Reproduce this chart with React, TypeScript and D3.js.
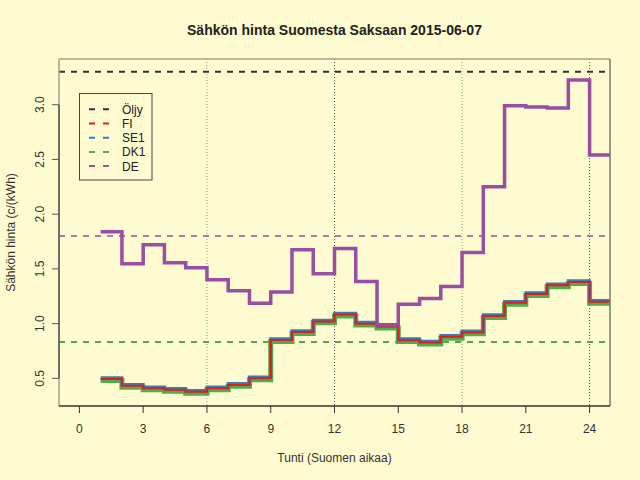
import React from "react";
import * as d3 from "d3";

const hours = [1,2,3,4,5,6,7,8,9,10,11,12,13,14,15,16,17,18,19,20,21,22,23,24];
const FI = [0.494,0.433,0.41,0.396,0.378,0.41,0.44,0.5,0.85,0.924,1.02,1.083,1.0,0.974,0.849,0.828,0.88,0.92,1.07,1.19,1.27,1.35,1.38,1.2];
const SE1 = [0.506,0.445,0.422,0.408,0.39,0.422,0.452,0.512,0.862,0.936,1.032,1.095,1.012,0.986,0.861,0.84,0.892,0.932,1.082,1.202,1.282,1.362,1.392,1.212];
const DK1 = [0.481,0.42,0.397,0.383,0.365,0.397,0.427,0.487,0.837,0.911,1.007,1.07,0.987,0.961,0.836,0.815,0.867,0.907,1.057,1.177,1.257,1.337,1.367,1.187];
const DE = [1.84,1.547,1.72,1.556,1.51,1.4,1.3,1.186,1.29,1.675,1.456,1.687,1.386,0.99,1.177,1.23,1.34,1.65,2.25,2.99,2.98,2.97,3.226,2.54];
const oilLevel = 3.3;
const meanFI = 0.833;
const meanSE1 = 0.833;
const meanDK1 = 0.833;
const meanDE = 1.8;
const xTicks = [0,3,6,9,12,15,18,21,24];
const yTicks = [0.5,1.0,1.5,2.0,2.5,3.0];
const vLinesLight = [6,18];
const vLinesDark = [12,24];
const legendLabels = ["Öljy","FI","SE1","DK1","DE"];

const COL = { oil: "#333333", FI: "#E41A1C", SE1: "#377EB8", DK1: "#4DAF4A", DE: "#984EA3" };
const legendColors = [COL.oil, COL.FI, COL.SE1, COL.DK1, COL.DE];

const W = 640, H = 480;
const L = 59, R = 610, T = 59, B = 406;
const FONT = "'Liberation Sans', Arial, Helvetica, sans-serif";
const BG = "#FFFBD0";

export default function App() {
  const xr = [0, 24];
  const yr = [d3.min(DK1) as number, oilLevel];
  const xe = (xr[1] - xr[0]) * 0.04;
  const ye = (yr[1] - yr[0]) * 0.04;
  const x = d3.scaleLinear().domain([xr[0] - xe, xr[1] + xe]).range([L, R]);
  const y = d3.scaleLinear().domain([yr[0] - ye, yr[1] + ye]).range([B, T]);

  const stepLine = (vals: number[]) => {
    const pts: [number, number][] = hours.map((h, i) => [h, vals[i]]);
    pts.push([hours[hours.length - 1] + 1, vals[vals.length - 1]]);
    return d3.line<[number, number]>().x(d => x(d[0])).y(d => y(d[1])).curve(d3.curveStepAfter)(pts) || "";
  };

  const hline = (v: number, color: string, w: number) => (
    <line x1={L} x2={R} y1={y(v)} y2={y(v)} stroke={color} strokeWidth={w} strokeDasharray="6,6" />
  );

  return (
    <svg width={W} height={H} style={{ position: "absolute", left: 0, top: 0 }} fontFamily={FONT}>
      <defs>
        <clipPath id="plotclip"><rect x={L} y={T} width={R - L} height={B - T} /></clipPath>
      </defs>
      <rect x={0} y={0} width={W} height={H} fill={BG} />
      <text x={(L + R) / 2} y={35} textAnchor="middle" fontWeight="bold" fontSize={14} fill="#222">
        Sähkön hinta Suomesta Saksaan 2015-06-07
      </text>
      <g clipPath="url(#plotclip)">
        {vLinesLight.map(v => (
          <line key={"vl" + v} x1={x(v)} x2={x(v)} y1={T} y2={B} stroke="#9a9a8a" strokeWidth={1} strokeDasharray="1,2" />
        ))}
        {vLinesDark.map(v => (
          <line key={"vd" + v} x1={x(v)} x2={x(v)} y1={T} y2={B} stroke="#555555" strokeWidth={1} strokeDasharray="1,2" />
        ))}
        {hline(oilLevel, COL.oil, 2)}
        {hline(meanFI, COL.FI, 2)}
        {hline(meanSE1, COL.SE1, 2)}
        {hline(meanDK1, "#55A44A", 2)}
        {hline(meanDE, COL.DE, 1.5)}
        <path d={stepLine(DK1)} fill="none" stroke={COL.DK1} strokeWidth={5} />
        <path d={stepLine(SE1)} fill="none" stroke={COL.SE1} strokeWidth={3} />
        <path d={stepLine(FI)} fill="none" stroke={COL.FI} strokeWidth={2} />
        <path d={stepLine(DE)} fill="none" stroke={COL.DE} strokeWidth={3.5} />
      </g>
      {/* box */}
      <line x1={L} x2={R} y1={T} y2={T} stroke="#A89F88" strokeWidth={1.5} />
      <line x1={L} x2={L} y1={T} y2={B} stroke="#A89F88" strokeWidth={1.5} />
      <line x1={R} x2={R} y1={T} y2={B} stroke="#7a7a72" strokeWidth={1.5} />
      <line x1={L} x2={R} y1={B} y2={B} stroke="#333" strokeWidth={1.5} />
      {/* y axis */}
      <line x1={L} x2={L} y1={y(yTicks[0])} y2={y(yTicks[yTicks.length - 1])} stroke="#555" strokeWidth={1.5} />
      {yTicks.map(v => (
        <g key={"yt" + v}>
          <line x1={L - 7} x2={L} y1={y(v)} y2={y(v)} stroke="#555" strokeWidth={1} />
          <text transform={`translate(${43.5},${y(v)}) rotate(-90)`} textAnchor="middle" fontSize={12} fill="#333">
            {v.toFixed(1)}
          </text>
        </g>
      ))}
      {/* x axis */}
      {xTicks.map(v => (
        <g key={"xt" + v}>
          <line x1={x(v)} x2={x(v)} y1={B} y2={B + 7} stroke="#333" strokeWidth={1} />
          <text x={x(v)} y={432.5} textAnchor="middle" fontSize={12} fill="#333">{v}</text>
        </g>
      ))}
      <text x={(L + R) / 2} y={462} textAnchor="middle" fontSize={12} fill="#333">Tunti (Suomen aikaa)</text>
      <text transform={`translate(15,${(T + B) / 2}) rotate(-90)`} textAnchor="middle" fontSize={12} fill="#333">
        Sähkön hinta (c/(kWh)
      </text>
      {/* legend */}
      <rect x={79.5} y={93.5} width={72.5} height={86.5} fill="none" stroke="#444" strokeWidth={1} />
      {legendLabels.map((lab, i) => {
        const cy = 109.3 + i * 14.2;
        return (
          <g key={lab}>
            <line x1={89} x2={109} y1={cy} y2={cy} stroke={legendColors[i]} strokeWidth={2} strokeDasharray="6,8" />
            <text x={122} y={cy + 4.5} fontSize={12} fill="#222">{lab}</text>
          </g>
        );
      })}
    </svg>
  );
}
